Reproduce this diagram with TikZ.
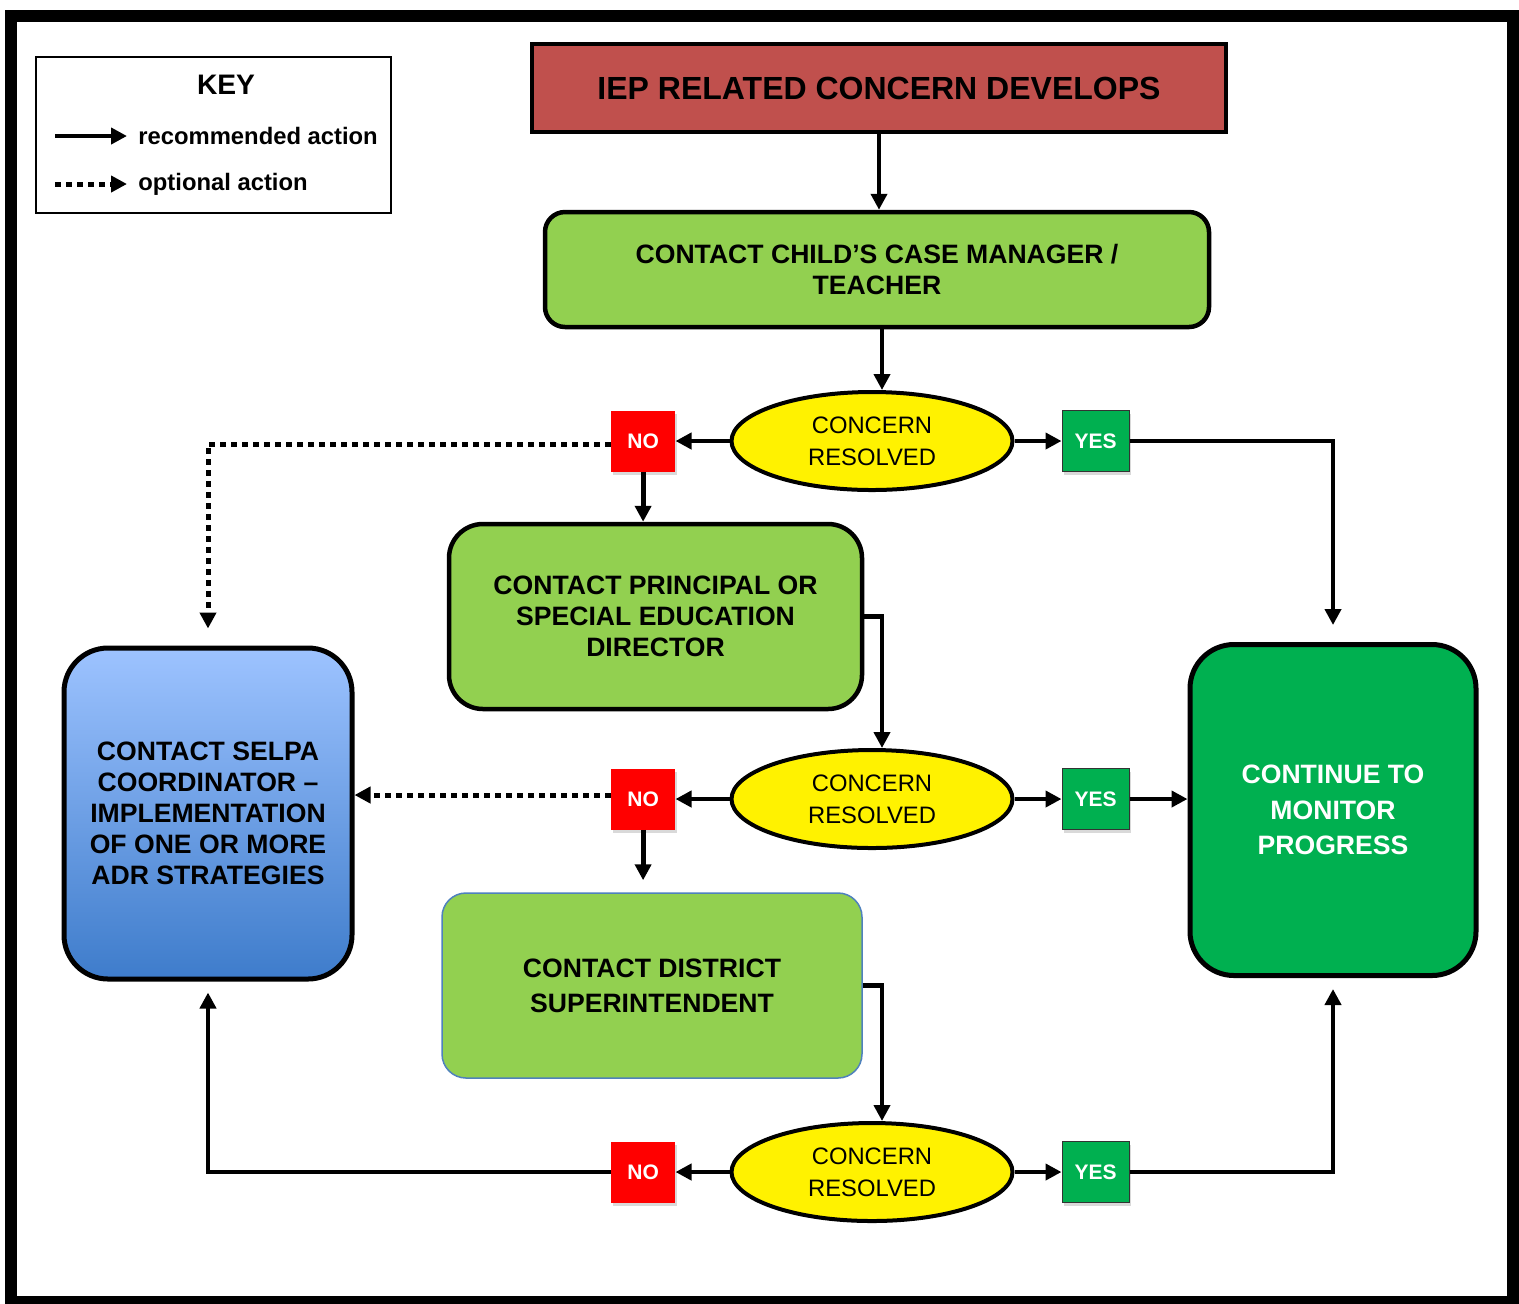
\documentclass[tikz,border=0pt]{standalone}
\usepackage{fontspec}
\setmainfont{Liberation Sans}
\usetikzlibrary{arrows.meta,positioning,shapes.geometric,shadows}

\definecolor{iepred}{HTML}{C0504D}
\definecolor{stepgreen}{HTML}{92D050}
\definecolor{okgreen}{HTML}{00B050}
\definecolor{selpatop}{HTML}{9DC3FF}
\definecolor{selpabot}{HTML}{3E7CCB}
\definecolor{distline}{HTML}{4F81BD}

\begin{document}
\begin{tikzpicture}[x=0.5pt, y=-0.5pt,
		box/.style={draw, line width=2.25pt, rounded corners=#1, fill=stepgreen, align=center, inner sep=0pt, font=\bfseries\fontsize{13.3}{15.5}\selectfont},
		box/.default=12pt,
		query/.style={ellipse, draw, line width=2pt, fill=yellow, minimum width=140.5pt, minimum height=49pt, inner sep=0pt, align=center, font=\fontsize{11.9}{16}\selectfont},
		nobtn/.style={fill=red, text=white, minimum width=32pt, minimum height=30.5pt, inner sep=0pt, font=\bfseries\fontsize{10.5}{12}\selectfont, drop shadow={opacity=0.3, shadow xshift=1pt, shadow yshift=-1.5pt}},
		yesbtn/.style={nobtn, fill=okgreen, draw=black!80, line width=0.6pt, minimum width=33.5pt},
		flow/.style={line width=2.4pt, -{Triangle[length=8pt,width=8pt]}},
		optional/.style={line width=2.5pt, dash pattern=on 3pt off 2.5pt, -{Triangle[length=8pt,width=8pt]}}
	]
		\useasboundingbox (0,0) rectangle (1519,1303);
		\draw[line width=6pt] (11,16) rectangle (1513,1302);

		% key
		\node[draw, line width=0.75pt, minimum width=177.5pt, minimum height=78pt] (key) at (213.5,135) {};
		\node[font=\bfseries\fontsize{14.1}{16}\selectfont] (keyttl) at (226,85) {KEY};
		\coordinate (k1a) at (55,136);
		\coordinate (k1b) at (127,136);
		\coordinate (k2a) at (55,184);
		\coordinate (k2b) at (127,184);
		\draw[flow] (k1a) -- (k1b);
		\draw[optional] (k2a) -- (k2b);
		\node[anchor=west, inner sep=0pt, font=\bfseries\fontsize{11.9}{14}\selectfont] (krec) at (138,136) {recommended action};
		\node[anchor=west, inner sep=0pt, font=\bfseries\fontsize{11.9}{14}\selectfont] (kopt) at (138,184) {optional action};

		% boxes
		\node[draw, line width=2pt, fill=iepred, minimum width=347pt, minimum height=44pt, inner sep=0pt, font=\bfseries\fontsize{16}{19}\selectfont] (iep) at (879,88) {IEP RELATED CONCERN DEVELOPS};
		\node[box=10pt, minimum width=332pt, minimum height=57.5pt] (cm) at (877,269.5) {CONTACT CHILD’S CASE MANAGER /\\TEACHER};
		\node[box=17pt, minimum width=206.5pt, minimum height=92.5pt] (pr) at (655.5,616.5) {CONTACT PRINCIPAL OR\\SPECIAL EDUCATION\\DIRECTOR};
		\node[box, draw=distline, line width=0.75pt, minimum width=210pt, minimum height=92.5pt, font=\bfseries\fontsize{13.3}{17.5}\selectfont] (dist) at (652,985.5) {CONTACT DISTRICT\\SUPERINTENDENT};
		\node[box=22pt, line width=2.5pt, top color=selpatop, bottom color=selpabot, minimum width=144pt, minimum height=165.5pt] (selpa) at (208,813.5) {CONTACT SELPA\\COORDINATOR –\\IMPLEMENTATION\\OF ONE OR MORE\\ADR STRATEGIES};
		\node[box=22pt, line width=2.5pt, fill=okgreen, text=white, minimum width=143pt, minimum height=165.5pt, font=\bfseries\fontsize{13.3}{17.75}\selectfont] (mon) at (1333,810) {CONTINUE TO\\MONITOR\\PROGRESS};

		% decisions
		\node[query] (q1) at (872,441) {CONCERN\\RESOLVED};
		\node[nobtn, left=27pt of q1] (no1) {NO};
		\node[yesbtn, right=23.5pt of q1] (yes1) {YES};

		\node[query] (q2) at (872,799) {CONCERN\\RESOLVED};
		\node[nobtn, left=27pt of q2] (no2) {NO};
		\node[yesbtn, right=23.5pt of q2] (yes2) {YES};

		\node[query] (q3) at (872,1172) {CONCERN\\RESOLVED};
		\node[nobtn, left=27pt of q3] (no3) {NO};
		\node[yesbtn, right=23.5pt of q3] (yes3) {YES};

		% connectors
		\draw[flow] (iep) -- (iep.south |- cm.north);
		\draw[flow] ([xshift=2.5pt]cm.south) -- ([xshift=2.5pt]cm.south |- q1.north);
		\draw[flow] (q1) -- (no1);
		\draw[flow] (q1) -- (yes1);
		\draw[flow] (no1) -- (no1.south |- pr.north);
		\draw[flow, shorten >=8.5pt] (yes1.east) -| (mon.north);
		\draw[optional, shorten >=8.5pt] ([yshift=-1.5pt]no1.west) -| (selpa.north);

		\draw[flow] (pr.east) -| ([xshift=5pt]q2.north);
		\draw[flow] (q2) -- (no2);
		\draw[flow] (q2) -- (yes2);
		\draw[flow] (yes2.east) -- (yes2.east -| mon.west);
		\draw[optional] ([yshift=2pt]no2.west) -- ([yshift=2pt]no2.west -| selpa.east);
		\draw[flow, shorten >=6pt] (no2) -- (no2.south |- dist.north);

		\draw[flow] (dist.east) -| ([xshift=5pt]q3.north);
		\draw[flow] (q3) -- (no3);
		\draw[flow] (q3) -- (yes3);
		\draw[flow, shorten >=5.5pt] (no3.west) -| (selpa.south);
		\draw[flow, shorten >=5.5pt] (yes3.east) -| (mon.south);
	\end{tikzpicture}
\end{document}
